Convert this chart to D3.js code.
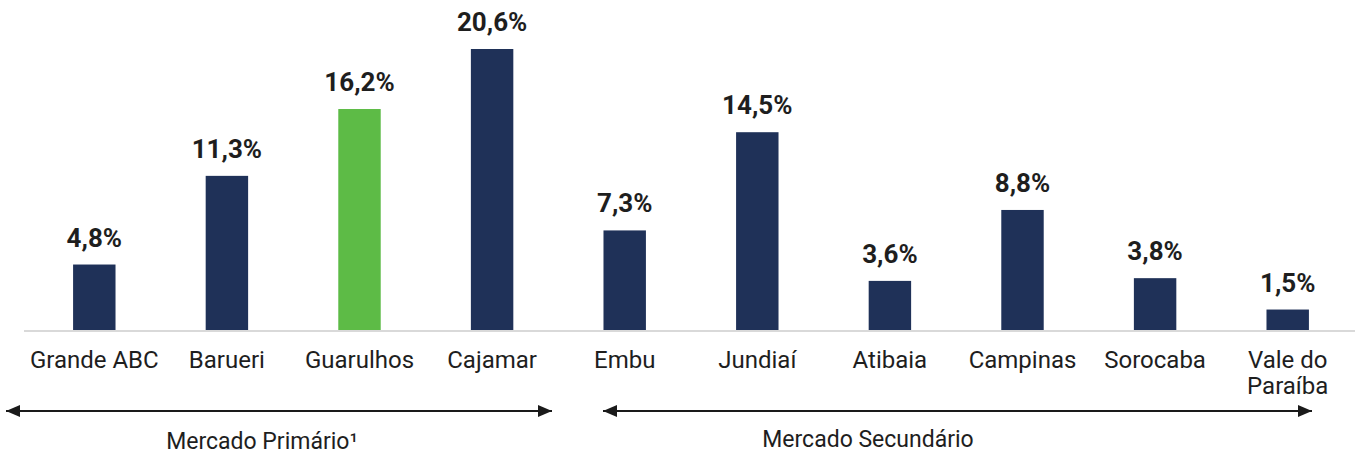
<!DOCTYPE html>
<html>
<head>
<meta charset="utf-8">
<script src="https://cdn.jsdelivr.net/npm/d3@7"></script>
<style>
  body { margin: 0; background: #fff; }
  svg text { font-family: Roboto, "Noto Sans", sans-serif; fill: #1e1e1e; }
  .value { font-weight: 700; font-size: 26px; }
  .cat { font-size: 24px; }
  .group { font-size: 23px; }
</style>
</head>
<body>
<svg width="1360" height="455"></svg>
<script>
const categories = ['Grande ABC', 'Barueri', 'Guarulhos', 'Cajamar', 'Embu', 'Jundiaí', 'Atibaia', 'Campinas', 'Sorocaba', 'Vale do|Paraíba'];
const values = [4.8, 11.3, 16.2, 20.6, 7.3, 14.5, 3.6, 8.8, 3.8, 1.5];
const highlight = 'Guarulhos';
const groups = [
  { name: 'Mercado Primário¹', first: 'Grande ABC', last: 'Cajamar' },
  { name: 'Mercado Secundário', first: 'Embu', last: 'Vale do|Paraíba' }
];

const svg = d3.select('svg');
const width = +svg.attr('width');

const data = categories.map((c, i) => ({ cat: c, value: values[i] }));

const baseY = 330;

const xScale = d3.scaleBand()
  .domain(categories)
  .range([28, 1354])
  .paddingInner(0.68)
  .paddingOuter(0.34);

const yScale = d3.scaleLinear()
  .domain([0, 20.6])
  .range([baseY, 49]);

const navy = '#1f3158';
const green = '#5dbb46';

// baseline
svg.append('line')
  .attr('x1', 24).attr('x2', 1355)
  .attr('y1', baseY + 1).attr('y2', baseY + 1)
  .attr('stroke', '#d9d9d9')
  .attr('stroke-width', 2);

svg.selectAll('rect.bar').data(data)
  .enter().append('rect')
    .attr('class', 'bar')
    .attr('x', d => xScale(d.cat))
    .attr('width', xScale.bandwidth())
    .attr('y', d => yScale(d.value))
    .attr('height', d => baseY - yScale(d.value))
    .attr('fill', d => d.cat === highlight ? green : navy);

svg.selectAll('text.value').data(data)
  .enter().append('text')
    .attr('class', 'value')
    .attr('x', d => xScale(d.cat) + xScale.bandwidth() / 2)
    .attr('y', d => yScale(d.value) - 18)
    .attr('text-anchor', 'middle')
    .text(d => d.value.toFixed(1).replace('.', ',') + '%');

// category labels (split on | for two lines)
const catText = svg.selectAll('text.cat').data(categories)
  .enter().append('text')
    .attr('class', 'cat')
    .attr('text-anchor', 'middle')
    .attr('x', d => xScale(d) + xScale.bandwidth() / 2)
    .attr('y', 368);

catText.selectAll('tspan')
  .data(d => d.split('|').map(t => ({ t, x: xScale(d) + xScale.bandwidth() / 2 })))
  .enter().append('tspan')
    .attr('x', d => d.x)
    .attr('dy', (d, i) => i === 0 ? 0 : 26)
    .text(d => d.t);

// arrows
const defs = svg.append('defs');
defs.append('marker')
  .attr('id', 'arrowEnd')
  .attr('viewBox', '0 0 14 12')
  .attr('refX', 14).attr('refY', 6)
  .attr('markerWidth', 14).attr('markerHeight', 12)
  .attr('markerUnits', 'userSpaceOnUse')
  .attr('orient', 'auto-start-reverse')
  .append('path')
    .attr('d', 'M0,0 L14,6 L0,12 Z')
    .attr('fill', '#1a1a1a');

const arrowY = 411;
const groupExtents = [[6, 552], [603, 1312]];

groups.forEach((g, i) => {
  const [x1, x2] = groupExtents[i];
  svg.append('line')
    .attr('x1', x1).attr('x2', x2)
    .attr('y1', arrowY).attr('y2', arrowY)
    .attr('stroke', '#1a1a1a')
    .attr('stroke-width', 2)
    .attr('marker-start', 'url(#arrowEnd)')
    .attr('marker-end', 'url(#arrowEnd)');
});

svg.append('text')
  .attr('class', 'group')
  .attr('x', 262).attr('y', 449)
  .attr('text-anchor', 'middle')
  .text(groups[0].name);

svg.append('text')
  .attr('class', 'group')
  .attr('x', 868).attr('y', 447)
  .attr('text-anchor', 'middle')
  .text(groups[1].name);
</script>
</body>
</html>
